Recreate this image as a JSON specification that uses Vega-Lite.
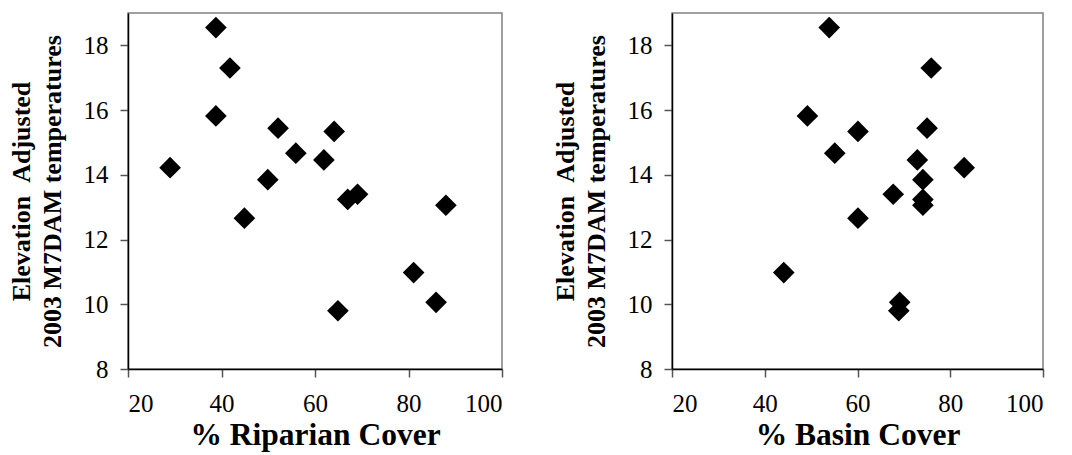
{
  "$schema": "https://vega.github.io/schema/vega-lite/v6.json",
  "background": "white",
  "padding": {"left": 7, "top": 12, "right": 5, "bottom": 5},
  "data": {
    "values": [
      {"site": 1, "temp": 18.55, "riparian": 38.8, "basin": 53.9},
      {"site": 2, "temp": 17.3, "riparian": 41.8, "basin": 75.9},
      {"site": 3, "temp": 15.82, "riparian": 38.8, "basin": 49.2},
      {"site": 4, "temp": 15.44, "riparian": 52.1, "basin": 75.0},
      {"site": 5, "temp": 15.34, "riparian": 64.1, "basin": 60.1},
      {"site": 6, "temp": 14.67, "riparian": 55.9, "basin": 55.1},
      {"site": 7, "temp": 14.46, "riparian": 61.9, "basin": 72.9},
      {"site": 8, "temp": 14.22, "riparian": 29.0, "basin": 83.0},
      {"site": 9, "temp": 13.85, "riparian": 49.9, "basin": 74.1},
      {"site": 10, "temp": 13.4, "riparian": 69.1, "basin": 67.7},
      {"site": 11, "temp": 13.24, "riparian": 67.0, "basin": 74.1},
      {"site": 12, "temp": 13.06, "riparian": 88.0, "basin": 74.1},
      {"site": 13, "temp": 12.66, "riparian": 44.9, "basin": 60.1},
      {"site": 14, "temp": 10.98, "riparian": 81.1, "basin": 44.1},
      {"site": 15, "temp": 10.06, "riparian": 85.9, "basin": 69.1},
      {"site": 16, "temp": 9.8, "riparian": 64.9, "basin": 68.9}
    ]
  },
  "spacing": 47,
  "hconcat": [
    {
      "width": 374,
      "height": 356,
      "mark": {"type": "point", "shape": "diamond", "filled": true, "color": "black", "size": 470, "opacity": 1},
      "encoding": {
        "x": {"field": "riparian", "type": "quantitative", "title": "% Riparian Cover",
              "scale": {"domain": [20, 100], "nice": false, "zero": false},
              "axis": {"values": [20, 40, 60, 80, 100]}},
        "y": {"field": "temp", "type": "quantitative", "title": ["Elevation\u00a0\u00a0Adjusted", "2003 M7DAM temperatures"],
              "scale": {"domain": [8, 19], "nice": false, "zero": false},
              "axis": {"values": [8, 10, 12, 14, 16, 18]}}
      }
    },
    {
      "width": 371,
      "height": 356,
      "mark": {"type": "point", "shape": "diamond", "filled": true, "color": "black", "size": 470, "opacity": 1},
      "encoding": {
        "x": {"field": "basin", "type": "quantitative", "title": "% Basin Cover",
              "scale": {"domain": [20, 100], "nice": false, "zero": false},
              "axis": {"values": [20, 40, 60, 80, 100]}},
        "y": {"field": "temp", "type": "quantitative", "title": ["Elevation\u00a0\u00a0Adjusted", "2003 M7DAM temperatures"],
              "scale": {"domain": [8, 19], "nice": false, "zero": false},
              "axis": {"values": [8, 10, 12, 14, 16, 18]}}
      }
    }
  ],
  "config": {
    "font": "Liberation Serif",
    "view": {"stroke": "#808080", "strokeWidth": 1.5},
    "axis": {
      "grid": false,
      "domainColor": "black",
      "domainWidth": 1.5,
      "tickColor": "#555555",
      "tickSize": 8,
      "tickWidth": 1.5,
      "labelFont": "Liberation Serif",
      "labelFontSize": 25,
      "labelColor": "black",
      "titleFont": "Liberation Serif",
      "titleFontWeight": "bold",
      "titleColor": "black"
    },
    "axisX": {"labelPadding": 14, "titleFontSize": 31.5, "titlePadding": 3},
    "axisY": {"labelPadding": 12, "titleFontSize": 26, "titleLineHeight": 31, "titlePadding": 18}
  }
}
